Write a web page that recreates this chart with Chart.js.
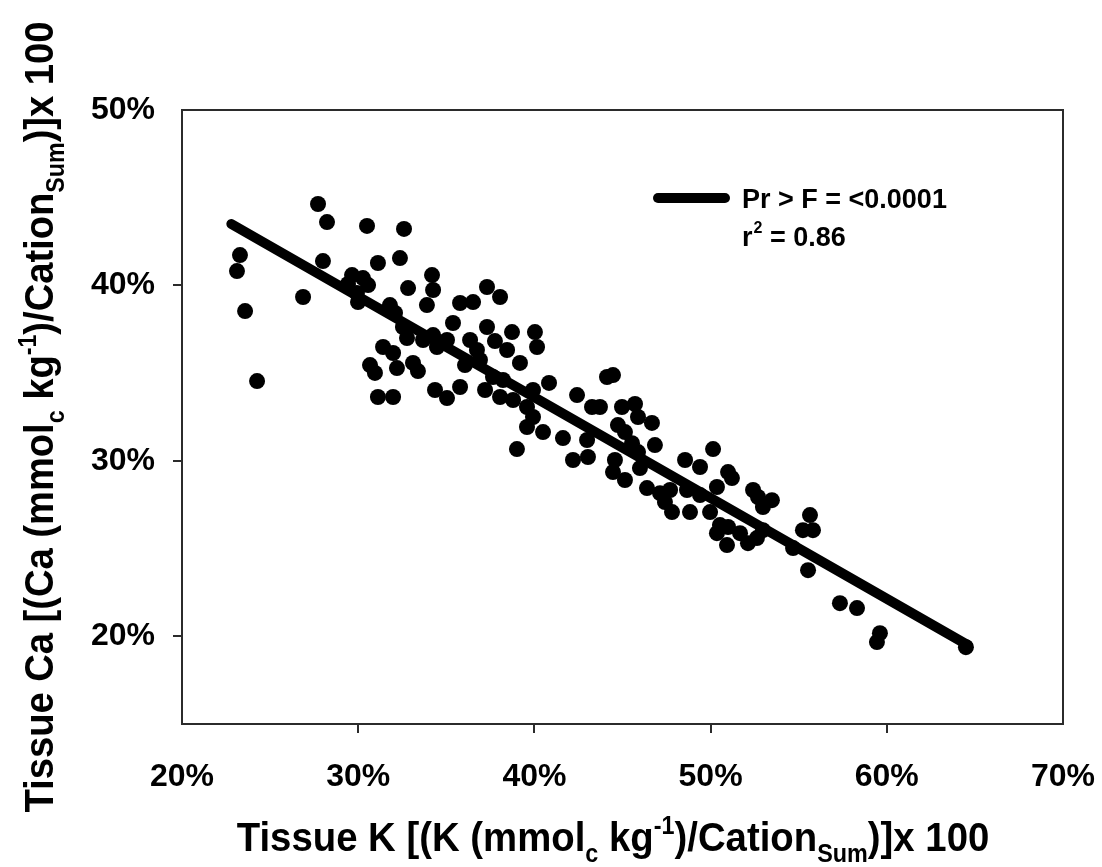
<!DOCTYPE html>
<html>
<head>
<meta charset="utf-8">
<script src="https://cdn.jsdelivr.net/npm/chart.js@4.4.1/dist/chart.umd.min.js"></script>
<style>
  body { margin: 0; background: #fff; }
  #wrap { width: 1102px; height: 867px; position: relative; }
</style>
</head>
<body>
<div id="wrap"><canvas id="tissueChart"></canvas></div>
<script>
// tissue K (% of cation sum) and tissue Ca (% of cation sum)
var kPct = [23.29, 23.12, 23.58, 24.26, 26.87, 27.72, 28.23, 28.00, 30.50, 32.60,
    31.12, 32.37, 29.65, 29.42, 30.27, 30.56, 29.93, 29.99, 34.19, 34.25,
    32.83, 33.90, 31.80, 32.09, 35.78, 36.52, 37.31, 38.05, 35.38, 37.31,
    38.73, 40.03, 40.15, 32.77, 33.68, 34.25, 34.47, 35.04, 36.35, 36.74,
    37.76, 38.45, 39.18, 31.41, 31.98, 30.67, 30.95, 32.20, 33.11, 33.39,
    36.06, 36.91, 31.12, 31.98, 34.36, 35.04, 35.78, 37.20, 38.05, 38.79,
    37.65, 38.22, 39.58, 39.92, 39.58, 40.49, 39.92, 39.01, 40.83, 41.62,
    42.42, 42.19, 43.04, 42.99, 43.27, 43.72, 44.12, 44.46, 44.97, 45.71,
    45.88, 46.67, 44.74, 45.14, 45.54, 45.88, 46.84, 44.57, 44.46, 45.14,
    45.99, 46.39, 47.13, 47.70, 47.41, 47.81, 48.55, 49.40, 50.14, 48.83,
    48.66, 49.40, 49.97, 50.36, 50.99, 51.21, 50.53, 50.36, 50.99, 50.93,
    51.67, 52.12, 52.63, 52.97, 52.41, 52.69, 53.48, 52.97, 54.68, 55.64,
    55.24, 55.81, 55.53, 57.34, 58.31, 59.61, 59.44, 64.49, 32.54];
var caPct = [41.73, 40.82, 38.54, 34.55, 39.34, 44.64, 43.61, 41.39, 43.39, 43.22,
    41.28, 41.56, 40.59, 40.08, 40.42, 40.02, 39.57, 39.05, 40.59, 39.74,
    39.85, 38.88, 38.88, 38.43, 39.00, 39.05, 39.91, 39.34, 37.86, 37.63,
    37.34, 37.34, 36.49, 37.00, 36.89, 37.17, 36.49, 36.89, 36.89, 36.32,
    36.83, 36.32, 35.58, 36.49, 36.15, 35.46, 35.01, 35.29, 35.58, 35.12,
    35.46, 35.75, 33.64, 33.64, 34.04, 33.58, 34.21, 34.04, 33.64, 33.47,
    34.78, 34.61, 33.07, 34.04, 31.93, 31.64, 32.50, 30.67, 34.44, 31.30,
    33.75, 30.05, 30.22, 31.19, 33.07, 33.07, 34.78, 34.89, 33.07, 33.24,
    32.50, 32.16, 32.04, 31.64, 31.01, 30.50, 30.90, 30.05, 29.36, 28.91,
    29.59, 28.45, 28.16, 28.34, 27.65, 27.08, 30.05, 29.65, 30.67, 27.08,
    28.34, 28.05, 27.08, 28.51, 29.36, 29.02, 26.34, 25.88, 26.23, 25.20,
    25.88, 25.31, 25.60, 26.05, 28.34, 27.94, 27.76, 27.37, 25.03, 26.91,
    26.05, 26.05, 23.77, 21.89, 21.61, 20.18, 19.67, 19.38, 37.63];

// regression line end points
var fitK = [22.8, 64.6];
var fitCa = [43.5, 19.5];

var xTicks = [20, 30, 40, 50, 60, 70];
var yTicks = [20, 30, 40, 50];

var FONT = "'Liberation Sans', Arial, Helvetica, sans-serif";

function toPoints(xs, ys) {
    return xs.map(function (x, i) { return { x: x, y: ys[i] }; });
}

// draws text with sub/superscript pieces, centred on x, squeezed by hs
function drawRich(ctx, parts, x, y, size, hs) {
    var small = Math.round(size * 0.62);
    var total = 0;
    parts.forEach(function (p) {
        ctx.font = 'bold ' + (p.sub || p.sup ? small : size) + 'px ' + FONT;
        p.w = ctx.measureText(p.t).width;
        total += p.w;
    });
    ctx.save();
    ctx.translate(x, y);
    ctx.scale(hs, 1);
    var cx = -total / 2;
    parts.forEach(function (p) {
        ctx.font = 'bold ' + (p.sub || p.sup ? small : size) + 'px ' + FONT;
        var dy = p.sub ? size * 0.28 : (p.sup ? -size * 0.42 : 0);
        ctx.fillText(p.t, cx, dy);
        cx += p.w;
    });
    ctx.restore();
}

var xTitle = [
    { t: 'Tissue K [(K (mmol' }, { t: 'c', sub: true }, { t: ' kg' }, { t: '-1', sup: true },
    { t: ')/Cation' }, { t: 'Sum', sub: true }, { t: ')]x 100' }
];
var yTitle = [
    { t: 'Tissue Ca [(Ca (mmol' }, { t: 'c', sub: true }, { t: ' kg' }, { t: '-1', sup: true },
    { t: ')/Cation' }, { t: 'Sum', sub: true }, { t: ')]x 100' }
];

var decorPlugin = {
    id: 'decor',
    afterDraw: function (chart) {
        var ctx = chart.ctx;
        var a = chart.chartArea;
        ctx.save();
        // frame
        ctx.strokeStyle = '#2b2b2b';
        ctx.lineWidth = 2;
        ctx.strokeRect(a.left, a.top, a.right - a.left, a.bottom - a.top);

        ctx.fillStyle = '#000';
        ctx.textAlign = 'left';
        ctx.textBaseline = 'alphabetic';
        drawRich(ctx, xTitle, 613, 851, 41, 0.935);

        ctx.save();
        ctx.translate(53, 417);
        ctx.rotate(-Math.PI / 2);
        drawRich(ctx, yTitle, 0, 0, 41, 0.93);
        ctx.restore();

        // legend
        ctx.strokeStyle = '#000';
        ctx.lineWidth = 10;
        ctx.lineCap = 'round';
        ctx.beginPath();
        ctx.moveTo(658, 198);
        ctx.lineTo(725, 198);
        ctx.stroke();
        ctx.font = 'bold 27px ' + FONT;
        ctx.fillText('Pr > F = <0.0001', 742, 208);
        ctx.fillText('r', 742, 246);
        var rw = ctx.measureText('r').width;
        ctx.font = 'bold 16px ' + FONT;
        ctx.fillText('2', 742 + rw + 1, 233);
        var sw = ctx.measureText('2').width;
        ctx.font = 'bold 27px ' + FONT;
        ctx.fillText(' = 0.86', 742 + rw + sw + 1, 246);
        ctx.restore();
    }
};

var ctx = document.getElementById('tissueChart').getContext('2d');

var tissueChart = new Chart(ctx, {
    type: 'scatter',
    data: {
        datasets: [{
            label: 'Observed',
            data: toPoints(kPct, caPct),
            backgroundColor: '#000',
            borderWidth: 0,
            pointRadius: 8,
            pointHoverRadius: 8
        }, {
            type: 'line',
            label: 'Fit',
            data: toPoints(fitK, fitCa),
            borderColor: '#000',
            borderWidth: 10,
            borderCapStyle: 'round',
            pointRadius: 0,
            fill: false,
            showLine: true
        }]
    },
    options: {
        responsive: true,
        maintainAspectRatio: false,
        animation: false,
        layout: {
            padding: { left: 0, top: 110, right: 39, bottom: 0 }
        },
        scales: {
            x: {
                type: 'linear',
                min: 20,
                max: 70,
                afterFit: function (scale) {
                    scale.height = 143;
                    scale.paddingLeft = 0;
                    scale.paddingRight = 0;
                },
                afterBuildTicks: function (scale) {
                    scale.ticks = xTicks.map(function (v) { return { value: v }; });
                },
                grid: {
                    drawOnChartArea: false,
                    tickLength: 9,
                    lineWidth: 2,
                    color: function (c) {
                        var v = c.tick && c.tick.value;
                        return (v === 20 || v === 70) ? 'rgba(0,0,0,0)' : '#2b2b2b';
                    }
                },
                border: { display: false },
                ticks: {
                    color: '#000',
                    padding: 25,
                    maxRotation: 0,
                    font: { family: FONT, size: 32, weight: 'bold' },
                    callback: function (v) { return v + '%'; }
                }
            },
            y: {
                type: 'linear',
                min: 15,
                max: 50,
                afterFit: function (scale) {
                    scale.width = 182;
                    scale.paddingTop = 0;
                    scale.paddingBottom = 0;
                },
                afterBuildTicks: function (scale) {
                    scale.ticks = yTicks.map(function (v) { return { value: v }; });
                },
                grid: {
                    drawOnChartArea: false,
                    tickLength: 9,
                    lineWidth: 2,
                    color: function (c) {
                        var v = c.tick && c.tick.value;
                        return v === 50 ? 'rgba(0,0,0,0)' : '#2b2b2b';
                    }
                },
                border: { display: false },
                ticks: {
                    color: '#000',
                    padding: 18,
                    font: { family: FONT, size: 32, weight: 'bold' },
                    callback: function (v) { return v + '%'; }
                }
            }
        },
        plugins: {
            legend: { display: false },
            tooltip: { enabled: false }
        }
    },
    plugins: [decorPlugin]
});
</script>
</body>
</html>
